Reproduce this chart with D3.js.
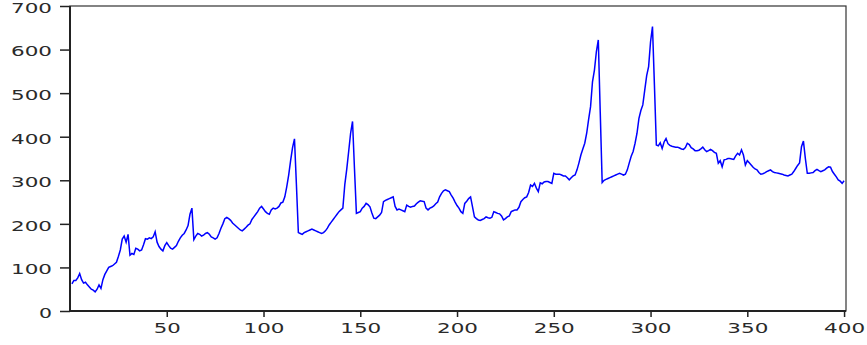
<!DOCTYPE html>
<html>
<head>
<meta charset="utf-8">
<script src="https://cdn.jsdelivr.net/npm/d3@7"></script>
<style>
  html, body { margin: 0; padding: 0; background: #fff; }
  svg { display: block; }
</style>
</head>
<body>
<div id="chart"></div>
<script>
const series = [
  62,70,70,76,86,72,64,66,60,55,
  50,48,44,50,60,52,72,84,92,100,
  102,104,108,112,125,140,165,172,158,176,
  128,132,130,144,142,138,140,152,166,165,
  168,166,170,182,158,148,142,138,150,157,
  150,144,142,146,150,160,168,174,178,186,
  196,222,236,164,172,178,176,172,174,178,
  180,176,170,168,165,168,178,190,200,212,
  215,212,208,202,198,194,190,186,184,188,
  192,197,200,210,216,222,228,236,240,234,
  228,224,222,232,236,234,236,240,248,250,
  262,285,312,345,375,395,290,180,178,176,
  180,182,184,186,188,186,184,182,180,178,
  180,184,190,198,204,210,216,222,228,232,
  236,290,325,366,408,435,327,224,226,228,
  236,240,247,244,239,225,213,212,216,220,
  226,251,254,256,258,260,262,240,232,234,
  232,230,228,243,240,238,240,241,246,250,
  253,252,251,236,232,236,238,241,246,250,
  262,270,276,278,276,274,266,259,250,242,
  236,228,224,247,252,258,262,239,216,212,
  209,208,210,212,216,214,213,215,228,226,
  224,223,218,209,212,216,218,228,230,232,
  232,238,251,256,260,262,272,289,286,293,
  282,274,294,292,296,297,297,295,293,316,
  314,314,314,312,310,310,306,301,306,310,
  312,324,340,358,372,385,408,440,469,526,
  553,595,622,457,295,300,302,304,306,308,
  310,312,314,316,314,312,314,324,340,355,
  366,385,408,442,460,473,507,540,561,618,
  653,519,381,379,386,373,388,396,384,380,
  378,377,376,376,374,372,371,375,385,382,
  375,372,368,368,369,372,376,370,366,368,
  371,368,364,362,339,345,331,347,348,350,
  350,349,348,356,362,358,370,358,335,345,
  340,335,330,326,324,318,314,315,317,320,
  322,324,320,318,317,316,315,314,312,311,
  310,312,314,320,327,334,340,377,390,350,
  316,316,317,318,322,325,322,320,322,324,
  328,331,330,320,314,308,301,298,293,299
];
const xTicks = [50, 100, 150, 200, 250, 300, 350, 400];
const yTicks = [0, 100, 200, 300, 400, 500, 600, 700];

const width = 867, height = 345;
const plot = { left: 70, right: 846, top: 6, bottom: 311 };

const svg = d3.select('#chart').append('svg')
  .attr('width', width)
  .attr('height', height);

const x = d3.scaleLinear().domain([0, 401]).range([plot.left, plot.right]);
const y = d3.scaleLinear().domain([0, 700]).range([plot.bottom, plot.top]);

// stretch the digits so they look like the wide bitmap font of the original
function widen(sel) {
  sel.selectAll('text')
    .attr('font-family', 'DejaVu Sans, sans-serif')
    .attr('font-size', 14)
    .attr('fill', '#2a2a2a')
    .attr('lengthAdjust', 'spacingAndGlyphs')
    .attr('textLength', function () { return this.textContent.length * 14 - 1; });
}

// y axis
const gy = svg.append('g')
  .attr('transform', `translate(${plot.left},0)`)
  .call(d3.axisLeft(y).tickValues(yTicks).tickSize(10).tickPadding(8));
gy.select('.domain').remove();
gy.selectAll('line').attr('stroke', '#222').attr('stroke-width', 1.5);
gy.selectAll('text').attr('dy', '0.45em');
widen(gy);

// x axis
const gx = svg.append('g')
  .attr('transform', `translate(0,${plot.bottom})`)
  .call(d3.axisBottom(x).tickValues(xTicks).tickSize(6).tickPadding(6));
gx.select('.domain').remove();
gx.selectAll('line').attr('stroke', '#222').attr('stroke-width', 1.5);
widen(gx);

// plot frame
svg.append('rect')
  .attr('x', plot.left).attr('y', plot.top)
  .attr('width', plot.right - plot.left).attr('height', plot.bottom - plot.top)
  .attr('fill', 'none')
  .attr('stroke', '#333')
  .attr('stroke-width', 1.2);
svg.append('line')
  .attr('x1', plot.left).attr('x2', plot.left).attr('y1', plot.top).attr('y2', plot.bottom + 1)
  .attr('stroke', '#222').attr('stroke-width', 2);
svg.append('line')
  .attr('x1', plot.left - 1).attr('x2', plot.right).attr('y1', plot.bottom).attr('y2', plot.bottom)
  .attr('stroke', '#222').attr('stroke-width', 2);

// the series
const line = d3.line()
  .x((d, i) => x(i + 1))
  .y(d => y(d));

svg.append('path')
  .datum(series)
  .attr('fill', 'none')
  .attr('stroke', '#0000ff')
  .attr('stroke-width', 1.5)
  .attr('stroke-linejoin', 'miter')
  .attr('d', line);
</script>
</body>
</html>
